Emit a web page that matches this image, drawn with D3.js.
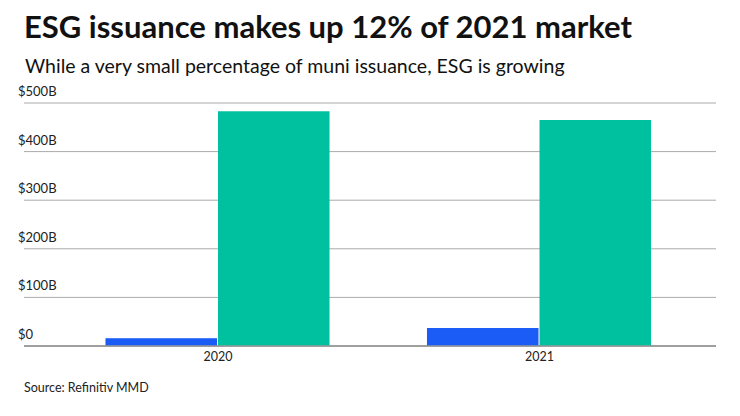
<!DOCTYPE html>
<html>
<head>
<meta charset="utf-8">
<script src="https://cdn.jsdelivr.net/npm/d3@7"></script>
<style>
  body { margin: 0; background: #fff; }
  svg { font-family: Lato, "Open Sans", sans-serif; }
</style>
</head>
<body>
<svg id="chart" width="740" height="416"></svg>
<script>
// data (billions of dollars)
var years = ["2020", "2021"];
var series = ["ESG", "Total"];
var esgValues = [16, 37];
var totalValues = [483, 465];
var yTicks = [0, 100, 200, 300, 400, 500];
var tickLabels = ["$0", "$100B", "$200B", "$300B", "$400B", "$500B"];
var colors = ["#1a5cf5", "#00c19f"];

var svg = d3.select("#chart");

svg.append("text")
  .attr("x", 24).attr("y", 38)
  .style("font-size", "31px").style("font-weight", "bold").style("fill", "#111")
  .text("ESG issuance makes up 12% of 2021 market");

svg.append("text")
  .attr("x", 25).attr("y", 73)
  .style("font-size", "19.5px").style("fill", "#111")
  .text("While a very small percentage of muni issuance, ESG is growing");

svg.append("text")
  .attr("x", 24).attr("y", 392)
  .style("font-size", "12.5px").style("fill", "#222")
  .text("Source: Refinitiv MMD");

var y = d3.scaleLinear().domain([0, 500]).range([346, 103]);
var x = d3.scaleBand().domain(years).range([57.25, 700.25])
  .paddingInner(0.3).paddingOuter(0.15);
var xs = d3.scaleBand().domain(series).range([0, x.bandwidth()]);

// gridlines + labels
var grid = svg.append("g");
yTicks.forEach(function(t, i) {
  grid.append("line")
    .attr("x1", 24).attr("x2", 716)
    .attr("y1", y(t)).attr("y2", y(t))
    .style("stroke", t === 0 ? "#999" : "#aaa")
    .style("stroke-width", t === 0 ? 1.5 : 1);
  grid.append("text")
    .attr("x", 18).attr("y", y(t) - 7)
    .style("font-size", "13px").style("fill", "#222")
    .text(tickLabels[i]);
});

var rows = years.map(function(yr, i) {
  return { year: yr, vals: [esgValues[i], totalValues[i]] };
});

var groups = svg.selectAll("g.year")
  .data(rows).enter().append("g")
  .attr("class", "year")
  .attr("transform", function(d) { return "translate(" + x(d.year) + ",0)"; });

groups.selectAll("rect")
  .data(function(d) { return d.vals; })
  .enter().append("rect")
  .attr("x", function(d, i) { return xs(series[i]); })
  .attr("width", xs.bandwidth() - 1)
  .attr("y", function(d) { return y(d); })
  .attr("height", function(d) { return y(0) - y(d); })
  .style("fill", function(d, i) { return colors[i]; });

// redraw baseline over bars
svg.append("line")
  .attr("x1", 24).attr("x2", 716)
  .attr("y1", y(0)).attr("y2", y(0))
  .style("stroke", "#999").style("stroke-width", 1.5);

svg.selectAll("text.year")
  .data(years).enter().append("text")
  .attr("class", "year")
  .attr("x", function(d) { return x(d) + x.bandwidth() / 2; })
  .attr("y", 361)
  .attr("text-anchor", "middle")
  .style("font-size", "12.5px").style("fill", "#222")
  .text(function(d) { return d; });
</script>
</body>
</html>
